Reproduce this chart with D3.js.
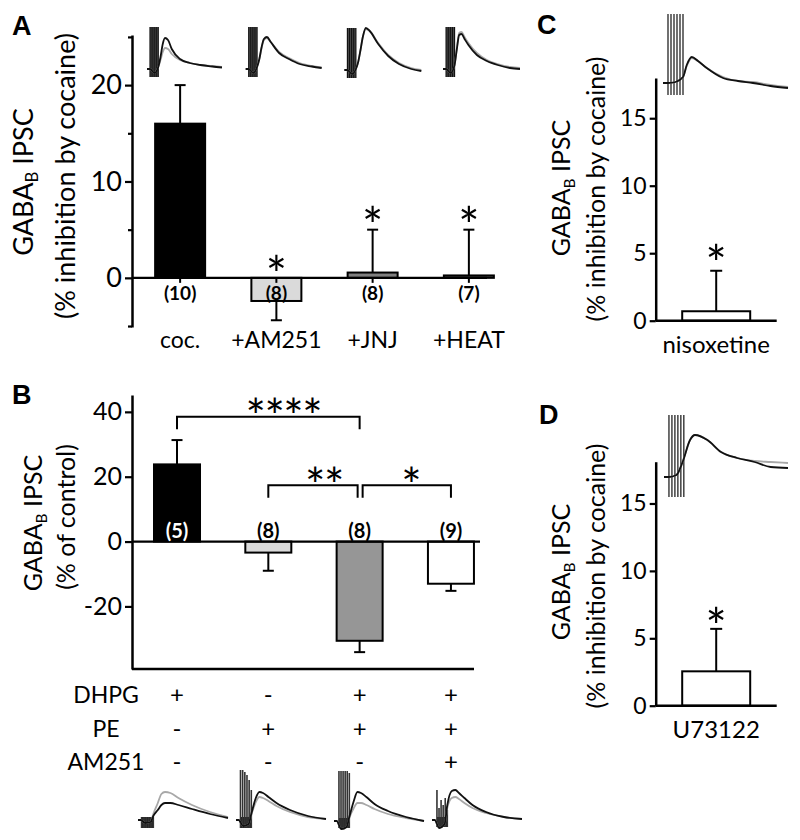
<!DOCTYPE html>
<html><head><meta charset="utf-8">
<script src="https://cdn.jsdelivr.net/npm/d3@7"></script>
<style>
body{margin:0;background:#fff}
svg text{font-family:Lato,"Noto Sans",sans-serif;fill:#000}
</style>
</head><body>
<svg id="c" width="800" height="840"></svg>
<script>
// ---------------- DATA ----------------
// Panel A
const catsA = ["coc.", "+AM251", "+JNJ", "+HEAT"];
const valsA = [16, -2.4, 0.55, 0.25];
const errA = [20, -4.4, 5.0, 5.0];
const nA = ["(10)", "(8)", "(8)", "(7)"];
const starA = ["", "*", "*", "*"];
const ticksA = [0, 10, 20];
const minorA = [-5, 5, 15, 25];
// Panel B
const catsB = ["c1", "c2", "c3", "c4"];
const valsB = [23.8, -3.4, -30.6, -13.0];
const errB = [31.3, -9.0, -34.1, -15.2];
const nB = ["(5)", "(8)", "(8)", "(9)"];
const ticksB = [-20, 0, 20, 40];
const sigB = [[0, 2, "****"], [1, 2, "**"], [2, 3, "*"]];
const rowLabels = ["DHPG", "PE", "AM251"];
const tableB = [["+", "-", "+", "+"], ["-", "+", "+", "+"], ["-", "-", "-", "+"]];
// Panel C / D
const catC = ["nisoxetine"], valC = [0.7], errC = [3.7], starC = ["*"];
const catD = ["U73122"], valD = [2.55], errD = [5.7], starD = ["*"];
const ticksCD = [0, 5, 10, 15];

// Example traces: time (% of trace width), black / grey amplitudes
const tA = [0, 4, 10, 15, 18, 21, 24, 28, 33, 44, 57, 71, 87, 100];
const trA1k = [0, 0, -4, 2, 12, 25, 31, 29, 20, 10, 6, 4, 2.5, 1.5];
const trA1g = [0, 0, -4, 2, 9, 17, 21, 20, 15, 9, 6, 4, 3, 2];
const trA2k = [0, 0, -4, 2, 10, 22, 30, 32, 27, 16, 10, 5, 2.5, 1];
const trA2g = [0, 0, -4, 2, 10, 21, 29, 31, 27, 17, 11, 6, 3, 1.5];
const trA3k = [0, 0, -4, 1, 8, 20, 33, 42, 39, 26, 14, 6, 1, -1];
const trA3g = [0, 0, -4, 1, 8, 20, 33, 41, 39, 27, 15, 7, 2, 0];
const trA4k = [0, 0, -4, 4, 20, 34, 35, 30, 24, 14, 8, 4, 1, 0];
const trA4g = [0, 0, -4, 4, 21, 36, 37, 32, 26, 16, 9, 5, 2, 1];
const stimA = [4, 15, 42, -8];

const tB = [0, 3, 8, 14, 17, 22, 26, 30, 36, 45, 60, 80, 100];
const trB1k = [0, 0, -3, -2, 4, 10, 15, 17, 17, 15, 11, 6, 2];
const trB1g = [0, 0, -3, -2, 6, 17, 26, 28, 27, 22, 15, 8, 3];
const trB2k = [0, 0, -6, -4, 6, 22, 28, 27, 23, 17, 10, 4, 1];
const trB2g = [0, 0, -6, -4, 5, 18, 23, 22, 19, 14, 8, 3, 1];
const trB3k = [0, 0, -8, -6, 4, 20, 29, 28, 24, 17, 10, 4, 0];
const trB3g = [0, 0, -8, -6, 3, 13, 18, 18, 16, 12, 7, 3, 0];
const trB4k = [0, 0, -8, -4, 15, 29, 30, 27, 22, 15, 8, 3, 1];
const trB4g = [0, 0, -8, -4, 12, 22, 23, 21, 17, 12, 7, 3, 1];
const stimB = [
  [4, 17, -8, [3, 3, 3, 3, 3, 3]],
  [5, 17, -8, [50, 50, 48, 45, 40, 30]],
  [5.5, 17, -7, [50, 50, 50, 50, 50, 48]],
  [5.5, 17, -7, [30, 12, 20, 15, 22, 10]]
];

const tC = [0, 4, 10, 16, 19, 23, 28, 35, 48, 60, 72, 86, 100];
const trCk = [0, 0, 1, 6, 18, 26, 22, 15, 5, 2, 0, -3, -5];
const trCg = [0, 0, 1, 6, 17, 25, 22, 15, 6, 2, 1, -2, -4];
const stimC = [4, 16, 69, -12];
const tD = [0, 4, 10, 15, 21, 25, 35, 46, 59, 73, 86, 100];
const trDk = [0, 0, 2, 15, 37, 42, 37, 25, 19, 15, 10, 9];
const trDg = [0, 0, 2, 15, 37, 42, 37, 25, 19, 16, 15, 14];
const stimD = [4, 16, 62, -20];

// ---------------- DRAWING ----------------
const svg = d3.select("#c");
const STAR_FS = 50;

function styleAxis(g, fs) {
  g.select(".domain").attr("stroke", "#000").attr("stroke-width", 2.5);
  g.selectAll(".tick line").attr("stroke", "#000").attr("stroke-width", 2.2);
  g.selectAll(".tick text").style("font-size", fs + "px").attr("font-family", null).attr("fill", "#000");
}
function minorTicks(g, x, scale, vals, len) {
  g.append("g").attr("transform", `translate(${x},0)`)
    .call(d3.axisLeft(scale).tickValues(vals).tickSize(len).tickFormat(""))
    .call(a => a.select(".domain").remove())
    .call(a => a.selectAll(".tick line").attr("stroke", "#000").attr("stroke-width", 2.2));
}
function yTitle(x1, x2, cy1, cy2, fs, line2) {
  const t1 = svg.append("text").attr("transform", `translate(${x1},${cy1}) rotate(-90)`)
    .attr("text-anchor", "middle").style("font-size", fs + "px");
  t1.append("tspan").text("GABA");
  t1.append("tspan").text("B").style("font-size", (fs * 0.62) + "px").attr("dy", fs * 0.18);
  t1.append("tspan").text(" IPSC").attr("dy", -fs * 0.18);
  svg.append("text").attr("transform", `translate(${x2},${cy2}) rotate(-90)`)
    .attr("text-anchor", "middle").style("font-size", fs + "px").text(line2);
}
function panelLetter(s, x, y) {
  svg.append("text").attr("x", x).attr("y", y).text(s)
    .style("font-family", "'Liberation Sans',Arial,sans-serif").style("font-weight", "bold").style("font-size", "27px");
}
function bars(g, cats, vals, errs, xs, ys, w, fills, cap) {
  cats.forEach((c, i) => {
    const v = vals[i], e = errs[i], cx = xs(c);
    g.append("line").attr("x1", cx).attr("x2", cx).attr("y1", ys(v)).attr("y2", ys(e))
      .attr("stroke", "#000").attr("stroke-width", 2);
    g.append("line").attr("x1", cx - cap / 2).attr("x2", cx + cap / 2).attr("y1", ys(e)).attr("y2", ys(e))
      .attr("stroke", "#000").attr("stroke-width", 2);
    g.append("rect").attr("x", cx - w / 2).attr("width", w)
      .attr("y", Math.min(ys(v), ys(0))).attr("height", Math.abs(ys(v) - ys(0)))
      .attr("fill", fills[i]).attr("stroke", "#000").attr("stroke-width", 2);
  });
}
function drawTraceLines(tt, kArr, gArr, xs, ys) {
  const line = d3.line().x(d => xs(d[0])).y(d => ys(d[1])).curve(d3.curveMonotoneX);
  svg.append("path").attr("d", line(tt.map((t, i) => [t, gArr[i]])))
    .attr("fill", "none").attr("stroke", "#a8a8a8").attr("stroke-width", 1.8);
  svg.append("path").attr("d", line(tt.map((t, i) => [t, kArr[i]])))
    .attr("fill", "none").attr("stroke", "#111").attr("stroke-width", 1.8);
}
function trace(tt, kArr, gArr, left, width, base, stim, stimLines, stimFill) {
  const xs = d3.scaleLinear().domain([0, 100]).range([left, left + width]);
  const ys = d3.scaleLinear().domain([0, 10]).range([base, base - 10]);
  const [t0, t1, top, bot] = stim;
  if (stimFill) {
    svg.append("rect").attr("x", xs(t0)).attr("width", xs(t1) - xs(t0))
      .attr("y", ys(top)).attr("height", ys(bot) - ys(top)).attr("fill", stimFill);
  }
  for (let i = 0; i < stimLines; i++) {
    const tx = t0 + (t1 - t0) * i / (stimLines - 1);
    svg.append("line").attr("x1", xs(tx)).attr("x2", xs(tx)).attr("y1", ys(top)).attr("y2", ys(bot))
      .attr("stroke", "#111").attr("stroke-width", 1.2);
  }
  drawTraceLines(tt, kArr, gArr, xs, ys);
}
function traceB(tt, kArr, gArr, left, width, base, st) {
  const xs = d3.scaleLinear().domain([0, 100]).range([left, left + width]);
  const ys = d3.scaleLinear().domain([0, 10]).range([base, base - 10]);
  const [t0, t1, bot, tops] = st;
  const capTop = Math.min(3, d3.max(tops));
  svg.append("rect").attr("x", xs(t0)).attr("width", xs(t1) - xs(t0))
    .attr("y", ys(capTop)).attr("height", ys(bot) - ys(capTop)).attr("fill", "#222");
  tops.forEach((tp, i) => {
    const tx = t0 + (t1 - t0) * i / (tops.length - 1);
    svg.append("line").attr("x1", xs(tx)).attr("x2", xs(tx)).attr("y1", ys(tp)).attr("y2", ys(bot))
      .attr("stroke", "#333").attr("stroke-width", 1.6);
  });
  drawTraceLines(tt, kArr, gArr, xs, ys);
}
// star text: glyph centre sits about 0.575em above the baseline
function star(x, yCentre, s) {
  svg.append("text").attr("x", x).attr("y", yCentre + STAR_FS * 0.575).attr("text-anchor", "middle")
    .style("font-size", STAR_FS + "px").text(s);
}
const fmt = d => String(d);

// ===== Panel A =====
const yA = d3.scaleLinear().domain([-5.1, 25.2]).range([327, 35]);
const xA = d3.scalePoint().domain(catsA).range([132, 517]).padding(0.5);
const gA = svg.append("g");
bars(gA, catsA, valsA, errA, xA, yA, 50, ["#000", "#dadada", "#7f7f7f", "#555"], 11);
gA.append("line").attr("x1", 132).attr("x2", 487).attr("y1", yA(0)).attr("y2", yA(0))
  .attr("stroke", "#000").attr("stroke-width", 2.2);
catsA.forEach(c => gA.append("line").attr("x1", xA(c)).attr("x2", xA(c))
  .attr("y1", yA(0)).attr("y2", yA(0) + 5).attr("stroke", "#000").attr("stroke-width", 2));
gA.append("g").attr("transform", "translate(132,0)")
  .call(d3.axisLeft(yA).tickValues(ticksA).tickFormat(fmt).tickSize(7).tickPadding(3).tickSizeOuter(0))
  .call(g => styleAxis(g, 27));
minorTicks(gA, 132, yA, minorA, 4);
catsA.forEach((c, i) => {
  gA.append("text").attr("x", xA(c)).attr("y", 300).attr("text-anchor", "middle")
    .style("font-size", "19px").style("font-weight", "bold").text(nA[i]);
  gA.append("text").attr("x", xA(c)).attr("y", 348).attr("text-anchor", "middle")
    .style("font-size", "23px").text(c);
  if (starA[i]) {
    const top = Math.max(valsA[i], errA[i], 0);
    star(xA(c), yA(top) - 14, starA[i]);
  }
});
const xTrA = d3.scalePoint().domain(catsA).range([147, 443]);
trace(tA, trA1k, trA1g, xTrA(catsA[0]), 75, 69, stimA, 5, "#4d4d4d");
trace(tA, trA2k, trA2g, xTrA(catsA[1]), 76, 69, stimA, 5, "#4d4d4d");
trace(tA, trA3k, trA3g, xTrA(catsA[2]), 77, 70, stimA, 5, "#4d4d4d");
trace(tA, trA4k, trA4g, xTrA(catsA[3]), 77, 69, stimA, 5, "#4d4d4d");
yTitle(33, 75, 182, 176, 27, "(% inhibition by cocaine)");
panelLetter("A", 12, 35);

// ===== Panel B =====
const yB = d3.scaleLinear().domain([-39.3, 45.2]).range([669, 395]);
const xB = d3.scalePoint().domain(catsB).range([131.35, 496.6]).padding(0.5);
const gB = svg.append("g");
bars(gB, catsB, valsB, errB, xB, yB, 46, ["#000", "#dadada", "#969696", "#fff"], 11);
gB.append("line").attr("x1", 132).attr("x2", 480).attr("y1", yB(0)).attr("y2", yB(0))
  .attr("stroke", "#000").attr("stroke-width", 2.2);
gB.append("line").attr("x1", 132).attr("x2", 474).attr("y1", yB.range()[0]).attr("y2", yB.range()[0])
  .attr("stroke", "#000").attr("stroke-width", 2.5);
gB.append("g").attr("transform", "translate(132,0)")
  .call(d3.axisLeft(yB).tickValues(ticksB).tickFormat(fmt).tickSize(7).tickPadding(3).tickSizeOuter(0))
  .call(g => styleAxis(g, 25));
catsB.forEach((c, i) => {
  gB.append("text").attr("x", xB(c)).attr("y", 538).attr("text-anchor", "middle")
    .style("font-size", "20px").style("font-weight", "bold")
    .style("fill", i === 0 ? "#fff" : "#000").text(nB[i]);
});
// significance brackets: [level (data units), inset left px, inset right px, star x offset px]
const bracketLayout = [[38.5, 0, 0, 15], [17.4, 0, 2, 11], [17.4, 3, 0, 4]];
sigB.forEach((s, i) => {
  const [lvl, inL, inR, dx] = bracketLayout[i];
  const xa = xB(catsB[s[0]]) + inL, xb = xB(catsB[s[1]]) - inR;
  const yy = yB(lvl);
  gB.append("path").attr("d", `M${xa},${yy + 12.6}V${yy}H${xb}V${yy + 12.6}`)
    .attr("fill", "none").attr("stroke", "#000").attr("stroke-width", 2);
  gB.append("text").attr("x", (xa + xb) / 2 + dx).attr("y", yy - 10 + 48 * 0.575).attr("text-anchor", "middle")
    .style("font-size", "48px").style("letter-spacing", "-1.5px").text(s[2]);
});
const rowY = [703, 737, 770];
rowLabels.forEach((r, j) => {
  svg.append("text").attr("x", 106).attr("y", rowY[j]).attr("text-anchor", "middle")
    .style("font-size", "23px").text(r);
  catsB.forEach((c, i) => {
    svg.append("text").attr("x", xB(c)).attr("y", rowY[j]).attr("text-anchor", "middle")
      .style("font-size", "24px").text(tableB[j][i]);
  });
});
const xTrB = d3.scalePoint().domain(catsB).range([138, 432]);
traceB(tB, trB1k, trB1g, xTrB(catsB[0]), 90, 820, stimB[0]);
traceB(tB, trB2k, trB2g, xTrB(catsB[1]), 90, 820, stimB[1]);
traceB(tB, trB3k, trB3g, xTrB(catsB[2]), 90, 821, stimB[2]);
traceB(tB, trB4k, trB4g, xTrB(catsB[3]), 90, 820, stimB[3]);
yTitle(42, 75, 523, 517, 25, "(% of control)");
panelLetter("B", 12, 404);

// ===== Panels C & D =====
function smallPanel(cat, val, err, st, y0, y1, ymax, starGap) {
  const ys = d3.scaleLinear().domain([0, ymax]).range([y0, y1]);
  const xs = d3.scalePoint().domain(cat).range([655.7, 776.7]).padding(0.5);
  const g = svg.append("g");
  bars(g, cat, val, err, xs, ys, 68, ["#fff"], 12);
  g.append("line").attr("x1", 655.7).attr("x2", 776.7).attr("y1", ys(0)).attr("y2", ys(0))
    .attr("stroke", "#000").attr("stroke-width", 2.5);
  g.append("g").attr("transform", "translate(655.7,0)")
    .call(d3.axisLeft(ys).tickValues(ticksCD).tickFormat(fmt).tickSize(6).tickPadding(3).tickSizeOuter(0))
    .call(a => styleAxis(a, 23));
  g.append("text").attr("x", xs(cat[0])).attr("y", ys(0) + 32).attr("text-anchor", "middle")
    .style("font-size", "24px").text(cat[0]);
  star(xs(cat[0]), ys(err[0]) - starGap, st[0]);
}
smallPanel(catC, valC, errC, starC, 320.7, 78, 17.98, 18);
trace(tC, trCk, trCg, 663, 125, 83, stimC, 6, null);
yTitle(570, 605, 188, 189, 25, "(% inhibition by cocaine)");
panelLetter("C", 537, 34);

smallPanel(catD, valD, errD, starD, 705.7, 461.7, 18.1, 13);
trace(tD, trDk, trDg, 664, 124, 477, stimD, 6, null);
yTitle(570, 605, 572, 576, 25, "(% inhibition by cocaine)");
panelLetter("D", 539, 424);
</script>
</body></html>
